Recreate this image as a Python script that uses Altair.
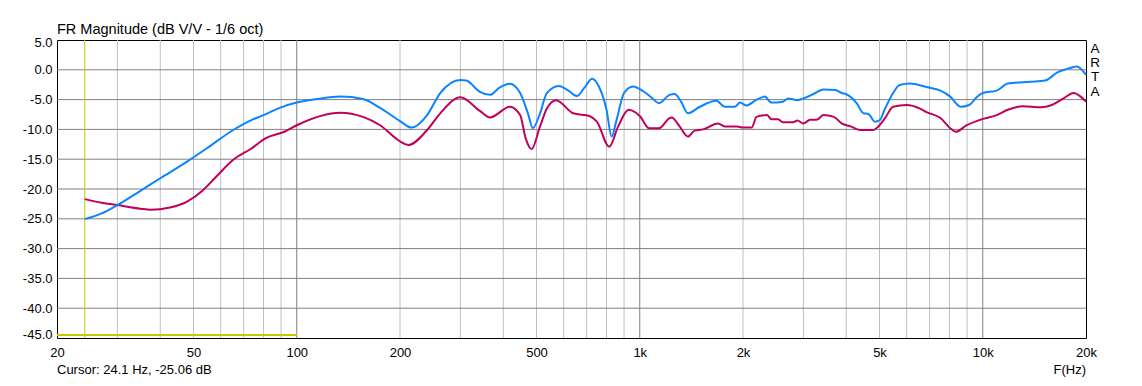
import altair as alt
import pandas as pd

# ---- data ----
blue_freq = [24.1, 27, 30, 35, 40, 47.9, 54.6, 65.3, 74, 80, 90, 100, 115, 134, 156, 175, 200, 216, 240, 262,
             300, 312, 342, 366, 390, 418, 448, 472, 488, 512, 536, 580, 620, 655, 690, 726, 760, 800,
             828, 856, 900, 955, 1024, 1080, 1138, 1222, 1264, 1320, 1382, 1497, 1672, 1770, 1895, 1960,
             2050, 2165, 2315, 2420, 2615, 2710, 2880, 3000, 3210, 3430, 3720, 3880, 4000, 4290, 4490,
             4640, 4850, 5000, 5190, 5480, 5720, 6130, 6860, 7530, 8040, 8610, 9130, 9640, 10000,
             10980, 11830, 13760, 15200, 16500, 17980, 18800, 20000]
blue_db = [-25.06, -24.1, -22.7, -20.3, -18.2, -15.4, -13.2, -10.1, -8.4, -7.6, -6.3, -5.5, -4.9, -4.5,
           -4.9, -6.4, -8.6, -9.7, -7.6, -3.9, -1.7, -1.8, -3.7, -4.2, -3.0, -2.35, -3.9, -7.3, -9.8,
           -7.3, -3.9, -2.7, -3.5, -4.4, -3.0, -1.5, -2.8, -6.7, -11.2, -8.4, -3.9, -2.8, -3.6, -4.6,
           -5.6, -4.2, -4.06, -5.35, -7.3, -6.2, -5.2, -6.2, -6.2, -5.5, -6.0, -5.2, -4.5, -5.5, -5.35,
           -4.8, -5.1, -4.8, -4.06, -3.3, -3.4, -3.9, -4.1, -5.6, -7.3, -7.4, -8.7, -8.5, -6.5, -3.9,
           -2.55, -2.3, -2.9, -3.5, -4.5, -6.2, -5.9, -4.5, -3.9, -3.5, -2.3, -2.0, -1.8, -0.45, 0.3,
           0.55, -0.84]

red_freq = [24.1, 27, 30, 35, 37.5, 42.7, 47.9, 53.3, 58.3, 65.3, 73.8, 81, 92, 100, 134, 156, 175, 200, 212,
            240, 262, 300, 342, 366, 418, 448, 465, 484, 512, 536, 570, 640, 713, 750, 815, 865, 928,
            1000, 1066, 1138, 1222, 1240, 1300, 1382, 1445, 1530, 1690, 1770, 1920, 2000, 2120, 2190,
            2350, 2420, 2530, 2615, 2800, 2880, 3000, 3140, 3280, 3430, 3680, 3880, 4120, 4380, 4800,
            4960, 5190, 5480, 6000, 6560, 6860, 7530, 8040, 8340, 8980, 9810, 10980, 11830, 13100,
            14800, 15900, 17200, 18400, 19300, 20000]
red_db = [-21.7, -22.3, -22.7, -23.3, -23.5, -23.1, -22.1, -20.2, -17.9, -15.1, -13.2, -11.5, -10.4,
          -9.3, -7.2, -7.9, -9.3, -12.0, -12.6, -10.1, -7.3, -4.6, -6.9, -8.0, -6.2, -7.6, -11.5,
          -13.3, -9.5, -6.5, -5.1, -7.3, -7.75, -8.7, -12.9, -9.5, -6.7, -7.75, -9.8, -9.8, -8.1, -8.0,
          -9.3, -11.2, -10.2, -10.0, -9.0, -9.5, -9.5, -9.7, -9.7, -7.9, -7.6, -8.3, -8.3, -8.8, -8.8,
          -8.5, -9.0, -8.4, -8.4, -7.6, -7.9, -9.0, -9.5, -10.1, -10.1, -9.5, -8.1, -6.2, -5.9, -6.5,
          -7.1, -8.1, -9.8, -10.4, -9.3, -8.4, -7.6, -6.7, -6.1, -6.3, -5.9, -4.8, -3.9, -4.5, -5.35]

x_label_values = [20, 50, 100, 200, 500, 1000, 2000, 5000, 10000, 20000]
y_label_values = [5, 0, -5, -10, -15, -20, -25, -30, -35, -40, -45]
minor_freqs = [30, 40, 50, 60, 70, 80, 90, 200, 300, 400, 500, 600, 700, 800, 900,
               2000, 3000, 4000, 5000, 6000, 7000, 8000, 9000]
major_freqs = [100, 1000, 10000]
hgrid_db = [0, -5, -10, -15, -20, -25, -30, -35, -40]
cursor_freq = [24.1]
cursor_bar_from = [20]
cursor_bar_to = [100]
cursor_bar_db = [-44.5]

title_text = "FR Magnitude (dB V/V - 1/6 oct)"
cursor_text = "Cursor: 24.1 Hz, -25.06 dB"
xaxis_text = "F(Hz)"
brand_text = "A\nR\nT\nA"

# ---- chart ----
W, H = 1029, 298
FONT = "Liberation Sans"
xscale = alt.Scale(type="log", domain=[20, 20000], nice=False)
yscale = alt.Scale(domain=[-45, 5], nice=False, zero=False)

x_axis = alt.Axis(values=x_label_values, grid=False, ticks=False, domain=False, title=None,
                  labelFont=FONT, labelFontSize=13, labelColor="black", labelPadding=8,
                  labelOverlap=False, labelFlush=False,
                  labelExpr="datum.value >= 1000 ? (datum.value / 1000) + 'k' : '' + datum.value")
y_axis = alt.Axis(values=y_label_values, grid=False, ticks=False, domain=False, title=None,
                  labelFont=FONT, labelFontSize=13, labelColor="black", labelPadding=5,
                  labelOverlap=False, labelFlush=True, labelFlushOffset=3.5,
                  labelExpr="(datum.value < 0 ? '-' : '') + format(abs(datum.value), '.1f')")

def X(field):
    return alt.X(field, scale=xscale, axis=x_axis)

def Y(field):
    return alt.Y(field, scale=yscale, axis=y_axis)

minor_df = pd.DataFrame({"f": minor_freqs})
major_df = pd.DataFrame({"f": major_freqs})
hgrid_df = pd.DataFrame({"db": hgrid_db})

minor = alt.Chart(minor_df).mark_rule(color="#c0c0c0", strokeWidth=1).encode(x=X("f:Q"))
major = alt.Chart(major_df).mark_rule(color="#808080", strokeWidth=1).encode(x=X("f:Q"))
hgrid = alt.Chart(hgrid_df).mark_rule(color="#808080", strokeWidth=1).encode(y=Y("db:Q"))

cur_v = alt.Chart(pd.DataFrame({"f": cursor_freq})).mark_rule(color="#c8c800", strokeWidth=1).encode(
    x=X("f:Q"))
cur_h = alt.Chart(pd.DataFrame({"f1": cursor_bar_from, "f2": cursor_bar_to, "db": cursor_bar_db})).mark_rule(
    color="#c8c800", strokeWidth=2).encode(x=X("f1:Q"), x2="f2:Q", y=Y("db:Q"))

blue_df = pd.DataFrame({"f": blue_freq, "db": blue_db})
red_df = pd.DataFrame({"f": red_freq, "db": red_db})

red_line = alt.Chart(red_df).mark_line(color="#c0005a", strokeWidth=2, interpolate="monotone").encode(
    x=X("f:Q"), y=Y("db:Q"))
blue_line = alt.Chart(blue_df).mark_line(color="#0a84ff", strokeWidth=2, interpolate="monotone").encode(
    x=X("f:Q"), y=Y("db:Q"))

def label(txt, x, y, align="left", size=13, line_height=None):
    kw = dict(align=align, baseline="alphabetic", font=FONT, fontSize=size, color="black")
    if line_height:
        kw.update(lineBreak="\n", lineHeight=line_height)
    return alt.Chart(pd.DataFrame({"t": [txt]})).mark_text(**kw).encode(
        text="t:N", x=alt.value(x), y=alt.value(y))

title = label(title_text, 0, -6, size=14.5)
cursor = label(cursor_text, 0, H + 36)
xlab = label(xaxis_text, W, H + 36, align="right")
brand = label(brand_text, 1038, 13, align="center", size=13.5, line_height=14.2)

chart = alt.layer(minor, major, hgrid, cur_v, cur_h, red_line, blue_line,
                  title, cursor, xlab, brand).properties(
    width=W, height=H,
    autosize=alt.AutoSizeParams(type="none"),
    padding={"left": 49, "top": 32, "right": 48, "bottom": 40},
    background="white",
).configure_view(stroke="black", strokeWidth=1)

chart.save("out.html", embed_options={"renderer": "svg", "actions": False})
